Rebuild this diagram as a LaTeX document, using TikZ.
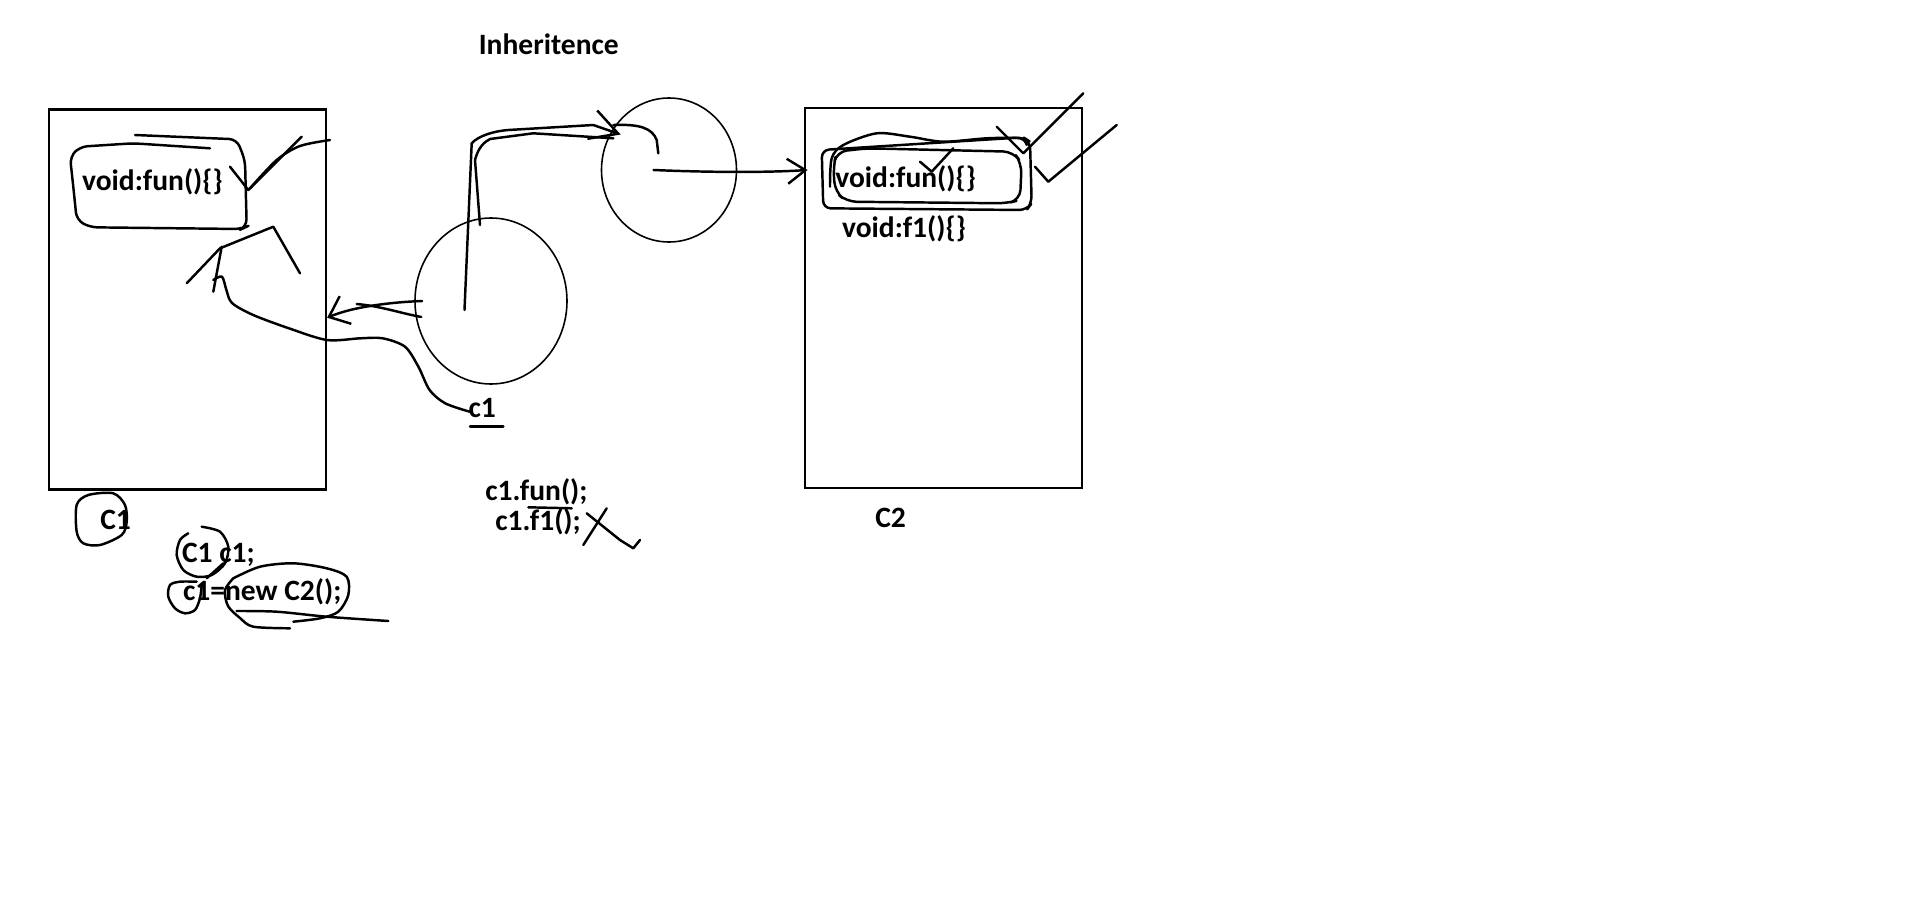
\documentclass[tikz,border=0pt]{standalone}
\usepackage{fontspec}
\setmainfont{Carlito}
\usetikzlibrary{positioning, calc, arrows.meta, shapes.geometric}

\tikzset{
  pen/.style={line width=1.4pt, line cap=round, line join=round},
  word/.style={anchor=west, inner sep=0pt, font=\fontsize{16.8}{20}\selectfont\bfseries},
  classbox/.style={draw, line width=1.4pt, minimum width=55.4mm, minimum height=76mm},
  objring/.style={draw, ellipse, line width=0.9pt, inner sep=0pt},
  handarrow/.style={pen, -{Straight Barb[length=3.6mm, width=6mm]}},
}

\begin{document}
\begin{tikzpicture}[x=0.2mm, y=-0.2mm]
    \useasboundingbox (0,0) rectangle (1914,903);
    \node[word] (title) at (478.5,44) {Inheritence};

    % classes
    \node[classbox] (classA) at (187.4,299.7) {};
    \node[classbox] (classB) at (943.3,298) {};
    \node[word] (nameA) at (100,520) {C1};
    \node[word] (nameB) at (875,517.6) {C2};
    \node[word] (funA) at (81.8,181.7) {void:fun()\{\}};
    \node[word] (funB) at (835,178.3) {void:fun()\{\}};
    \node[word] (fB) at (841.7,228.3) {void:f1()\{\}};

    % objects
    \node[objring, minimum width=30.4mm, minimum height=33.2mm] (cone) at (491,301) {};
    \node[objring, minimum width=27mm, minimum height=28.8mm] (ctwo) at (669,170) {};
    \node[word] (cname) at (468.3,408.3) {c1};

    % code
    \node[word] (callfun) at (485,491.7) {c1.fun();};
    \node[word] (callf) at (495,521.7) {c1.f1();};
    \node[word] (decl) at (181.7,555) {C1 c1;};
    \node[word] (assign) at (182.7,591.7) {c1=new C2();};

    % references
    \draw[handarrow] ([xshift=1.6mm]cone.west) .. controls (395,302) and (355,306) .. ([yshift=-3.6mm]classA.east);
    \draw[pen] ([xshift=1.4mm,yshift=-3.2mm]cone.west) .. controls (400,313) and (380,306) .. (356.7,304);
    \draw[handarrow, -{Straight Barb[length=5.5mm, width=6mm]}] ([xshift=-5.3mm,yshift=-1.8mm]cone.center) -- (471.7,143.3)
        .. controls (478,136) and (494,131) .. (508.3,130) -- (593.3,125) -- ([yshift=-3.2mm]ctwo.north west);
    \draw[pen] (480,225) -- (475,160) .. controls (478,148) and (484,142) .. (490,139) -- (533.3,133.3) -- (613.3,138.3);
    \draw[pen] (613.3,125) .. controls (640,124) and (652,128) .. (656.7,140) -- (658.3,153.3);
    \draw[handarrow, -{Straight Barb[length=3.6mm, width=5mm]}] ([xshift=-3.1mm]ctwo.center) .. controls (700,172) and (760,173) .. ($(ctwo.center -| classB.west)+(4,0)$);

    % marks on C1
    \draw[pen, rounded corners=1.5mm] (135,135) -- (236.7,139.3) -- (245,160) -- (246.7,226.7) -- (241.7,229) -- (90,227.3)
        -- (76.7,220) -- (73.3,186.7) -- (70,156.7) -- (80,146.7) -- (133.3,143.3) -- (210,148.3);
    \draw[pen] (230,166.7) -- (248.3,190) -- (301.7,136.7);
    \draw[pen] plot[smooth] coordinates {(250,188.3) (276.7,160) (300,146) (330,140)};
    \draw[pen] (186.7,283.3) -- (220,248.3) -- (273.3,226.7) -- (300,273.3);
    \draw[pen] (221.7,246.7) -- (213.3,291.7);
    \draw[pen] plot[smooth] coordinates {(213.3,280) (222,276.7) (226.4,290) (232,303) (253.2,315) (288.9,328.3)
        (326.9,340) (360.4,338.3) (382.7,338.3) (405,346.7) (418.4,366.7) (429.6,390) (445.2,403.3) (469.7,411.7)};
    \draw[pen] (470,426.7) -- (503.3,426.7);

    % marks on C2
    \draw[pen, rounded corners=1.5mm] (821.7,150) -- (1023.3,137.3) -- (1030,141.7) -- (1031.7,203.3) -- (1026.7,210)
        -- (823.3,208.3) -- cycle;
    \draw[pen, rounded corners=2mm] (836.7,151.7) -- (866.7,148.3) -- (1013.3,151.7) -- (1021.7,163.3) -- (1020,200)
        -- (1006.7,203.3) -- (846.7,201.7) -- (835,191.7) -- (833.3,166.7) -- cycle;
    \draw[pen] plot[smooth] coordinates {(830,186.7) (831.7,158.3) (843.3,145) (876.7,133.3) (910,136.7) (943.3,141.7)
        (986.7,138.3) (1020,138.3) (1026.7,145)};
    \draw[pen] (920,161.7) -- (931.7,171.7) -- (953.3,148.3);
    \draw[pen] (996.7,126.7) -- (1023.3,153.3) -- (1083.3,93.3);
    \draw[pen] (1035,166.7) -- (1048.3,181.7) -- (1116.7,125);

    % marks on the code
    \draw[pen] (528.3,507.3) -- (571.7,508.3);
    \draw[pen] (583.3,545) -- (606.7,508.3);
    \draw[pen] (586.7,513.3) -- (620,540) -- (633.3,548.3) -- (640,540);
    \draw[pen] plot[smooth cycle] coordinates {(88.3,495) (113.3,493.3) (125,505) (126.7,521.7) (121.7,535) (100,545)
        (83.3,543.3) (76.7,531.7) (76.7,505)};
    \draw[pen] plot[smooth] coordinates {(201.7,526.7) (220,531.7) (228.3,546.7) (225,563.3) (211.7,575) (196.7,576.7)
        (183.3,570) (176.7,555) (180,540) (188.3,533.3)};
    \draw[pen] (223.3,563.3) -- (206.7,578.3);
    \draw[pen] plot[smooth] coordinates {(196.7,581.7) (180,581.7) (170,585) (168.3,596.7) (175,608.3) (185,613.3)
        (195,610) (200,598.3) (201.7,585)};
    \draw[pen] plot[smooth] coordinates {(233.3,578.3) (260,566.7) (293.3,563.3) (326.7,568.3) (346.7,576.7) (348.3,595)
        (338.3,611.7) (320,618.3) (293.3,621.7)};
    \draw[pen] plot[smooth] coordinates {(233.3,578.3) (225,590) (228,606) (240,618) (253.3,626.7) (290,628.3)};
    \draw[pen] plot[smooth] coordinates {(236.7,611) (276.7,611.7) (326.7,616.7) (388.3,621)};
\end{tikzpicture}
\end{document}
